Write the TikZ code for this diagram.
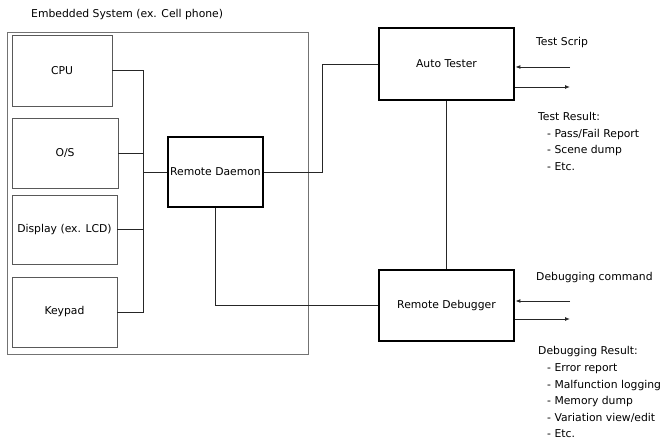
\documentclass[tikz,border=0pt]{standalone}
\usepackage{fontspec}
\setmainfont{DejaVu Sans}
\usetikzlibrary{arrows.meta}

\begin{document}
\begin{tikzpicture}[x=1pt, y=-1pt,
    part/.style={rectangle, draw=black!65, line width=0.9pt, font=\fontsize{10.8}{12}\selectfont, inner sep=0pt},
    unit/.style={rectangle, draw=black, line width=2.8pt, font=\fontsize{10.8}{12}\selectfont, inner sep=0pt},
    wire/.style={draw=black!85, line width=0.9pt},
    flow/.style={wire, -{Latex[length=5pt, width=4pt]}},
    note/.style={anchor=west, inner sep=0pt, font=\fontsize{10.8}{12}\selectfont},
    list/.style={anchor=north west, inner sep=0pt, align=left, font=\fontsize{10.8}{16.6}\selectfont}]
    \useasboundingbox (0,0) rectangle (667,443);

    % Draw nodes
    \node[rectangle, draw=black!55, line width=0.9pt, minimum width=301pt, minimum height=322pt] (sys) at (157.5,193) {};
    \node[note] (systitle) at (31,15) {Embedded System (ex. Cell phone)};

    \node[part, minimum width=100pt, minimum height=71pt] (cpu) at (62,70.5) {CPU};
    \node[part, minimum width=106pt, minimum height=70pt] (os) at (65,153) {O/S};
    \node[part, minimum width=105pt, minimum height=69pt] (lcd) at (64.5,229.5) {Display (ex. LCD)};
    \node[part, minimum width=105pt, minimum height=70pt] (keypad) at (64.5,312) {Keypad};

    \node[unit, minimum width=95pt, minimum height=70pt] (daemon) at (215.5,172) {Remote Daemon};
    \node[unit, minimum width=135pt, minimum height=72pt] (tester) at (446.5,64) {Auto Tester};
    \node[unit, minimum width=135pt, minimum height=71pt] (debugger) at (446.5,305.5) {Remote Debugger};

    \coordinate (bus) at (143,172);
    \coordinate (turn) at (322,172);

    % Draw connections
    \draw[wire] (cpu.east) -| (bus);
    \draw[wire] (os.east) -| (bus);
    \draw[wire] (lcd.east) -| (bus);
    \draw[wire] (keypad.east) -| (bus);
    \draw[wire] (bus) -- (daemon.west);
    \draw[wire] (daemon.east) -- (turn) |- (tester.west);
    \draw[wire] (daemon.south) |- (debugger.west);
    \draw[wire] (tester.south) -- (debugger.north);

    % Inputs and outputs
    \coordinate (scripin) at (570,67);
    \coordinate (resultout) at (570,87);
    \coordinate (cmdin) at (570,301);
    \coordinate (dbgout) at (570,319);
    \draw[flow] (scripin) -- (scripin -| tester.east);
    \draw[flow] (resultout -| tester.east) -- (resultout);
    \draw[flow] (cmdin) -- (cmdin -| debugger.east);
    \draw[flow] (dbgout -| debugger.east) -- (dbgout);

    % Labels
    \node[note] (scrip) at (536,43) {Test Scrip};
    \node[list] (result) at (538,112) {Test Result:\\
        \hspace*{9pt}- Pass/Fail Report\\
        \hspace*{9pt}- Scene dump\\
        \hspace*{9pt}- Etc.};
    \node[note] (cmd) at (536,278) {Debugging command};
    \node[list] (dbgresult) at (538,346.5) {Debugging Result:\\
        \hspace*{9pt}- Error report\\
        \hspace*{9pt}- Malfunction logging\\
        \hspace*{9pt}- Memory dump\\
        \hspace*{9pt}- Variation view/edit\\
        \hspace*{9pt}- Etc.};
\end{tikzpicture}
\end{document}
